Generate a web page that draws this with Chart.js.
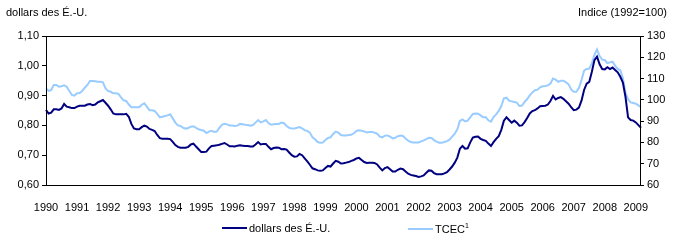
<!DOCTYPE html>
<html>
<head>
<meta charset="utf-8">
<script src="https://cdn.jsdelivr.net/npm/chart.js@4/dist/chart.umd.min.js"></script>
<style>
  body { margin: 0; background: #fff; }
  #wrap { position: relative; width: 677px; height: 247px; font-family: "Liberation Sans", Arial, sans-serif; font-size: 11px; color: #000; }
  #chart { position: absolute; left: 0; top: 0; }
  .ttl { position: absolute; top: 6px; white-space: nowrap; }
  .leg { position: absolute; top: 222px; white-space: nowrap; }
  .leg span.ln { display: inline-block; width: 25px; height: 2px; vertical-align: middle; margin-right: 2px; position: relative; top: -1px; }
  sup { font-size: 7px; }
</style>
</head>
<body>
<div id="wrap">
  <canvas id="chart" width="677" height="247"></canvas>
  <div class="ttl" style="left:6px;">dollars des É.-U.</div>
  <div class="ttl" style="right:10px;">Indice (1992=100)</div>
  <div class="leg" style="left:222px;"><span class="ln" style="background:#000080"></span>dollars des É.-U.</div>
  <div class="leg" style="left:408px;"><span class="ln" style="background:#99ccff"></span>TCEC<sup>1</sup></div>
</div>
<script>
// monthly values, Jan 1990 to Mar 2009
let startYear = 1990;
let usd = [
  0.852, 0.840, 0.843, 0.854, 0.854, 0.852, 0.857, 0.872, 0.863, 0.861, 0.858, 0.858,
  0.863, 0.866, 0.866, 0.866, 0.870, 0.872, 0.868, 0.870, 0.877, 0.881, 0.885, 0.876,
  0.866, 0.854, 0.840, 0.837, 0.837, 0.837, 0.837, 0.839, 0.829, 0.805, 0.790, 0.787,
  0.787, 0.794, 0.799, 0.796, 0.788, 0.785, 0.781, 0.768, 0.757, 0.755, 0.755, 0.755,
  0.754, 0.745, 0.734, 0.728, 0.725, 0.725, 0.725, 0.728, 0.736, 0.739, 0.729, 0.720,
  0.711, 0.711, 0.712, 0.723, 0.731, 0.732, 0.733, 0.735, 0.738, 0.741, 0.736, 0.730,
  0.730, 0.729, 0.732, 0.733, 0.732, 0.731, 0.731, 0.729, 0.729, 0.736, 0.744, 0.736,
  0.738, 0.738, 0.728, 0.720, 0.724, 0.726, 0.725, 0.720, 0.721, 0.719, 0.709, 0.700,
  0.695, 0.696, 0.704, 0.700, 0.689, 0.679, 0.668, 0.656, 0.653, 0.649, 0.648, 0.649,
  0.657, 0.664, 0.662, 0.672, 0.681, 0.678, 0.672, 0.673, 0.675, 0.677, 0.681, 0.684,
  0.689, 0.691, 0.684, 0.677, 0.674, 0.675, 0.675, 0.674, 0.669, 0.658, 0.649, 0.657,
  0.660, 0.653, 0.645, 0.645, 0.651, 0.655, 0.653, 0.645, 0.638, 0.634, 0.632, 0.630,
  0.627, 0.629, 0.632, 0.641, 0.649, 0.648, 0.640, 0.636, 0.636, 0.636, 0.639, 0.643,
  0.652, 0.662, 0.675, 0.692, 0.722, 0.731, 0.722, 0.723, 0.743, 0.759, 0.762, 0.763,
  0.755, 0.751, 0.748, 0.739, 0.731, 0.744, 0.755, 0.764, 0.785, 0.816, 0.827, 0.818,
  0.809, 0.816, 0.809, 0.799, 0.800, 0.811, 0.825, 0.840, 0.848, 0.851, 0.857, 0.864,
  0.865, 0.866, 0.870, 0.882, 0.899, 0.887, 0.892, 0.895, 0.889, 0.881, 0.873, 0.861,
  0.851, 0.853, 0.860, 0.883, 0.919, 0.940, 0.946, 0.980, 1.019, 1.031, 1.005, 0.989,
  0.988, 0.995, 0.989, 0.994, 0.986, 0.978, 0.963, 0.944, 0.896, 0.827, 0.818, 0.816,
  0.810, 0.801, 0.792
];
let tcec = [
  105.4, 104.2, 104.6, 107.0, 107.0, 106.2, 106.4, 106.8, 106.2, 104.2, 102.3, 102.0,
  103.1, 103.2, 104.2, 105.7, 107.0, 108.9, 108.9, 108.7, 108.5, 108.5, 108.2, 105.4,
  104.2, 103.8, 103.1, 103.1, 102.8, 101.2, 99.8, 99.5, 97.8, 96.5, 96.5, 96.5,
  96.5, 97.7, 98.4, 96.8, 95.1, 95.1, 94.8, 93.4, 91.8, 92.1, 92.4, 92.7,
  93.2, 91.3, 89.3, 88.0, 87.7, 86.9, 86.5, 86.8, 87.4, 87.6, 86.8, 86.2,
  85.8, 85.5, 84.4, 85.1, 85.5, 84.9, 85.1, 86.8, 88.3, 88.8, 88.5, 88.0,
  87.9, 87.7, 87.9, 88.7, 88.5, 88.3, 88.2, 87.9, 88.2, 89.3, 90.5, 89.4,
  89.9, 90.5, 89.1, 88.3, 88.5, 88.7, 88.7, 89.3, 89.0, 87.7, 86.9, 86.5,
  86.5, 86.9, 87.2, 86.6, 85.8, 85.4, 84.6, 82.4, 81.5, 80.2, 79.9, 80.0,
  81.1, 82.1, 82.4, 84.0, 85.1, 84.6, 83.5, 83.3, 83.3, 83.5, 83.6, 84.3,
  85.4, 85.7, 85.5, 85.2, 84.7, 84.9, 84.9, 84.6, 84.1, 82.7, 82.4, 83.2,
  83.3, 82.7, 81.9, 82.2, 82.9, 83.2, 83.0, 81.8, 80.8, 80.2, 80.0, 80.0,
  80.0, 80.5, 81.0, 81.6, 82.2, 82.1, 81.1, 80.4, 79.9, 79.9, 80.2, 80.6,
  81.3, 82.7, 84.1, 86.2, 90.1, 90.8, 89.9, 90.2, 91.8, 93.4, 93.6, 93.5,
  92.7, 91.8, 91.8, 90.4, 89.8, 91.9, 93.2, 94.8, 97.1, 100.7, 101.0, 99.6,
  99.3, 99.0, 98.7, 97.1, 97.3, 99.0, 100.4, 102.1, 103.5, 104.5, 104.8, 105.9,
  106.4, 106.5, 106.8, 107.7, 110.0, 109.5, 108.5, 109.0, 109.0, 108.2, 107.3, 104.9,
  103.8, 103.8, 105.5, 109.3, 113.7, 114.5, 114.7, 117.2, 121.1, 123.7, 120.6, 118.9,
  118.7, 117.3, 117.6, 117.9, 116.0, 114.5, 113.9, 110.1, 103.4, 100.2, 98.8, 98.5,
  98.2, 97.4, 96.5
];

// one label per month, year shown only on january
let months = [];
for (let i = 0; i < usd.length; i++) {
  months.push((startYear + Math.floor(i / 12)) + '-' + (i % 12 + 1));
}

let font = { family: '"Liberation Sans", Arial, sans-serif', size: 11 };

// black frame around the plot area
let frame = {
  id: 'frame',
  afterDatasetsDraw(chart) {
    let a = chart.chartArea;
    let c = chart.ctx;
    c.save();
    c.strokeStyle = '#000';
    c.lineWidth = 1;
    c.strokeRect(Math.round(a.left) + 0.5, Math.round(a.top) + 0.5,
      Math.round(a.right - a.left) - 1, Math.round(a.bottom - a.top));
    c.restore();
  }
};

let ctx = document.getElementById('chart').getContext('2d');
let myChart = new Chart(ctx, {
  type: 'line',
  data: {
    labels: months,
    datasets: [{
      label: 'dollars des É.-U.',
      data: usd,
      yAxisID: 'y',
      borderColor: '#000080',
      borderWidth: 2,
      pointRadius: 0,
      tension: 0
    }, {
      label: 'TCEC',
      data: tcec,
      yAxisID: 'y2',
      borderColor: '#99ccff',
      borderWidth: 2,
      pointRadius: 0,
      tension: 0
    }]
  },
  options: {
    responsive: false,
    animation: false,
    layout: { padding: { top: 36, left: 0, right: 0, bottom: 0 } },
    plugins: { legend: { display: false }, tooltip: { enabled: false } },
    scales: {
      x: {
        offset: false,
        grid: { display: false },
        border: { display: false },
        ticks: {
          autoSkip: false, maxRotation: 0, padding: 8, color: '#000', font: font,
          callback: function (v, i) { return i % 12 === 0 ? String(startYear + i / 12) : null; }
        },
        afterFit: function (s) { s.height = 62; }
      },
      y: {
        position: 'left',
        min: 0.6, max: 1.1,
        grid: { drawOnChartArea: false, tickLength: 4, color: '#000' },
        border: { display: false },
        ticks: {
          stepSize: 0.1, padding: 3, color: '#000', font: font,
          callback: function (v) { return v.toFixed(2).replace('.', ','); }
        },
        afterFit: function (s) { s.width = 46; }
      },
      y2: {
        position: 'right',
        min: 60, max: 130,
        grid: { drawOnChartArea: false, tickLength: 3, color: '#000' },
        border: { display: false },
        ticks: { stepSize: 10, padding: 3, color: '#000', font: font },
        afterFit: function (s) { s.width = 36; }
      }
    }
  },
  plugins: [frame]
});
</script>
</body>
</html>
